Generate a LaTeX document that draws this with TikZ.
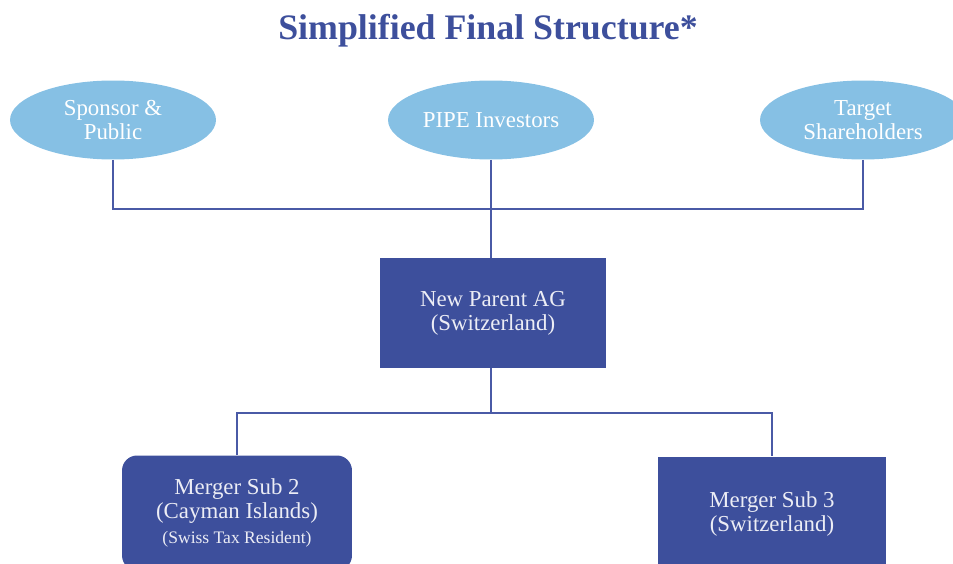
\documentclass[tikz,border=0pt]{standalone}
\usepackage{fontspec}
\setmainfont{Liberation Serif}
\usetikzlibrary{shapes,positioning}
\definecolor{pale}{HTML}{86C0E4}
\definecolor{navy}{HTML}{3D4F9C}
\definecolor{linkblue}{HTML}{4A5AA6}

\begin{document}
\begin{tikzpicture}[x=0.02cm,y=-0.02cm]
  \tikzstyle{holder}=[ellipse,fill=pale,text=white,minimum width=4.12cm,minimum height=1.58cm,inner sep=0pt,align=center,font=\fontsize{13}{13.6}\selectfont]
  \tikzstyle{entity}=[rectangle,fill=navy,text=white!90!navy,minimum width=4.54cm,minimum height=2.2cm,inner sep=0pt,align=center,font=\fontsize{13}{13.6}\selectfont]
  \tikzstyle{sub}=[entity,minimum width=4.6cm,minimum height=2.3cm]
  \tikzstyle{link}=[draw=linkblue,line width=1.2pt]
  \tikzstyle{heading}=[text=navy,font=\fontsize{20.4}{24}\selectfont\bfseries]

  \clip (0,0) rectangle (953,564);

  \begin{scope}
    % owners on top
    \node [heading] (title) at (488,31) {Simplified Final Structure*};
    \node [holder] (sponsor) at (113,120) {Sponsor \&\\Public};
    \node [holder] (pipe) at (491,120) {PIPE Investors};
    \node [holder] (target) at (863,120) {Target\\Shareholders};
    \coordinate (jointop) at (491,209);
    % parent and subs
    \node [entity] (parent) at (493,313) {New Parent AG\\(Switzerland)};
    \coordinate (jointbot) at (491,413);
    \node [sub,rounded corners=0.3cm] (subtwo) at (237,513)
      {Merger Sub 2\\(Cayman Islands)\\[1pt]{\fontsize{10}{12}\selectfont(Swiss Tax Resident)}};
    \node [sub,minimum width=4.58cm] (subthree) at (772,514) {Merger Sub 3\\(Switzerland)};
  \end{scope}

  \begin{scope}
    \path [link] (sponsor) |- (jointop);
    \path [link] (target) |- (jointop);
    \path [link] (pipe) -- (pipe |- parent.north);
    \path [link] (parent.south -| jointbot) -- (jointbot);
    \path [link] (jointbot) -| (subtwo);
    \path [link] (jointbot) -| (subthree);
  \end{scope}
\end{tikzpicture}
\end{document}
